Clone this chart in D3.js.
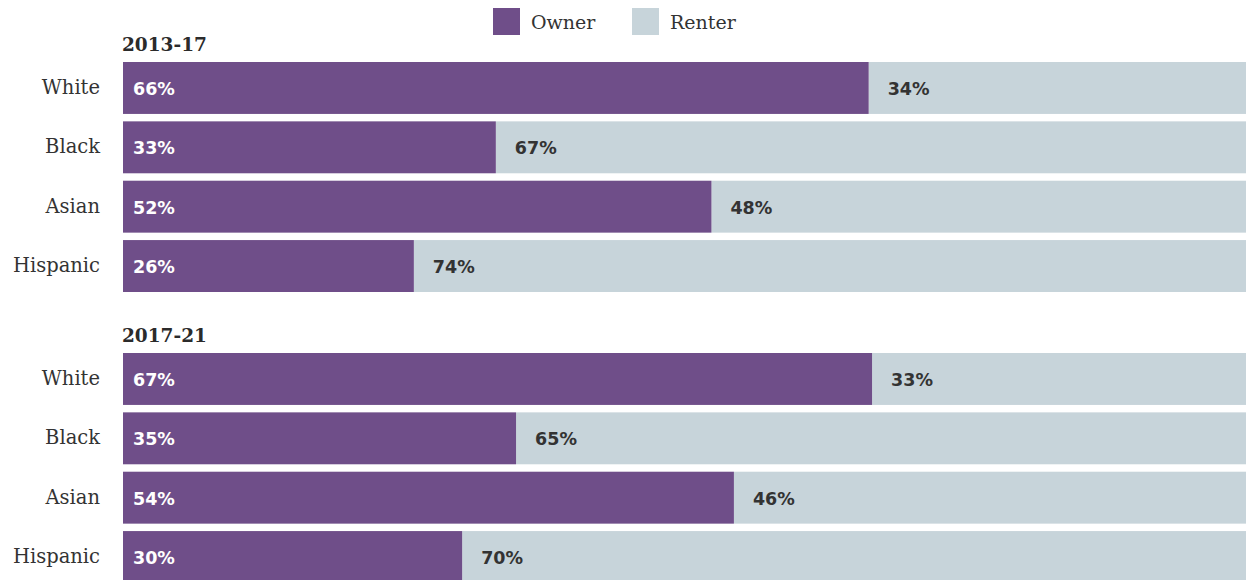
<!DOCTYPE html>
<html>
<head>
<meta charset="utf-8">
<script src="https://cdn.jsdelivr.net/npm/d3@7"></script>
<style>
  body { margin: 0; background: #fff; }
  text { font-family: "DejaVu Serif", serif; }
  text.pct { font-family: "DejaVu Sans", sans-serif; font-weight: 700; }
</style>
</head>
<body>
<div id="chart"></div>
<script>
const categories = ['White', 'Black', 'Asian', 'Hispanic'];
const periods = ['2013-17', '2017-21'];
const seriesNames = ['Owner', 'Renter'];
// shares in percent, labels show the rounded value
const owner1317 = [66.4, 33.2, 52.4, 25.9];
const renter1317 = [33.6, 66.8, 47.6, 74.1];
const owner1721 = [66.7, 35.0, 54.4, 30.2];
const renter1721 = [33.3, 65.0, 45.6, 69.8];

const width = 1246;
const height = 580;
const ownerColor = '#6f4e89';
const renterColor = '#c7d4da';

const groups = [
  { period: periods[0], owner: owner1317, renter: renter1317, top: 62 },
  { period: periods[1], owner: owner1721, renter: renter1721, top: 353 }
];

const svg = d3.select('#chart')
  .append('svg')
  .attr('width', width)
  .attr('height', height);

const x = d3.scaleLinear()
  .domain([0, 100])
  .range([123, width]);

const fmt = v => Math.round(v) + '%';

// legend
const legendX = [493, 632];
seriesNames.forEach((name, i) => {
  svg.append('rect')
    .attr('x', legendX[i])
    .attr('y', 8)
    .attr('width', 27)
    .attr('height', 27)
    .attr('fill', i === 0 ? ownerColor : renterColor);
  svg.append('text')
    .attr('x', legendX[i] + 38)
    .attr('y', 29)
    .attr('font-size', 19)
    .attr('fill', '#333')
    .text(name);
});

groups.forEach(g => {
  const y = d3.scaleBand()
    .domain(categories)
    .range([g.top, g.top + 230])
    .paddingInner(0.125)
    .paddingOuter(0);

  const grp = svg.append('g');

  grp.append('text')
    .attr('x', x(0) - 1)
    .attr('y', g.top - 11)
    .attr('font-size', 18.5)
    .attr('font-weight', 'bold')
    .attr('fill', '#2b2b2b')
    .text(g.period);

  grp.selectAll('rect.renter')
    .data(categories)
    .enter()
    .append('rect')
    .attr('class', 'renter')
    .attr('x', (d, i) => x(g.owner[i]))
    .attr('y', d => y(d))
    .attr('width', (d, i) => x(g.renter[i]) - x(0))
    .attr('height', y.bandwidth())
    .attr('fill', renterColor);

  grp.selectAll('rect.owner')
    .data(categories)
    .enter()
    .append('rect')
    .attr('class', 'owner')
    .attr('x', x(0))
    .attr('y', d => y(d))
    .attr('width', (d, i) => x(g.owner[i]) - x(0))
    .attr('height', y.bandwidth())
    .attr('fill', ownerColor);

  grp.selectAll('text.cat')
    .data(categories)
    .enter()
    .append('text')
    .attr('class', 'cat')
    .attr('x', 100)
    .attr('y', d => y(d) + y.bandwidth() / 2 - 1)
    .attr('dy', '0.35em')
    .attr('text-anchor', 'end')
    .attr('font-size', 19.5)
    .attr('fill', '#333')
    .text(d => d);

  grp.selectAll('text.ownerLabel')
    .data(categories)
    .enter()
    .append('text')
    .attr('class', 'pct ownerLabel')
    .attr('x', x(0) + 10)
    .attr('y', d => y(d) + y.bandwidth() / 2 + 1)
    .attr('dy', '0.35em')
    .attr('font-size', 17.5)
    .attr('fill', '#fff')
    .text((d, i) => fmt(g.owner[i]));

  grp.selectAll('text.renterLabel')
    .data(categories)
    .enter()
    .append('text')
    .attr('class', 'pct renterLabel')
    .attr('x', (d, i) => x(g.owner[i]) + 19)
    .attr('y', d => y(d) + y.bandwidth() / 2 + 1)
    .attr('dy', '0.35em')
    .attr('font-size', 17.5)
    .attr('fill', '#333')
    .text((d, i) => fmt(g.renter[i]));
});
</script>
</body>
</html>
